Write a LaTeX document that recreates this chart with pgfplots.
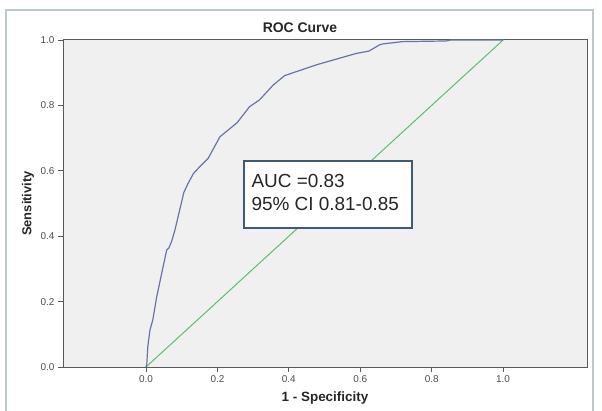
\documentclass[border=0pt]{standalone}
\usepackage{fontspec}
\setmainfont{Liberation Sans}
\usepackage{pgfplots}
\pgfplotsset{compat=1.18}
\definecolor{roc}{HTML}{6874A8}
\definecolor{refl}{HTML}{5DC068}
\definecolor{framec}{HTML}{B8C8CC}
\definecolor{boxc}{HTML}{3E5A78}
\begin{document}
\begin{tikzpicture}
\path[use as bounding box] (0bp,0bp) rectangle (602bp,411bp);
\draw[framec, line width=1.6bp] (6bp,-5bp) rectangle (593bp,401bp);
\node[font=\fontsize{14}{16}\selectfont\bfseries, text=black!85] at (300bp,383bp) {ROC Curve};
\begin{axis}[
  at={(63bp,44bp)}, anchor=south west,
  scale only axis, width=524bp, height=327bp,
  xmin=-0.2325, xmax=1.235, ymin=0, ymax=1,
  axis background/.style={fill=black!6},
  axis line style={draw=black!65, line width=1bp},
  xtick={0,0.2,0.4,0.6,0.8,1.0}, ytick={0,0.2,0.4,0.6,0.8,1.0},
  tick align=outside, xtick pos=bottom, ytick pos=left,
  major tick length=5bp,
  tick style={draw=black!65, line width=0.8bp},
  tick label style={font=\fontsize{10}{12}\selectfont, text=black!70},
  /pgf/number format/.cd, fixed, fixed zerofill, precision=1, assume math mode=true,
  /pgfplots/.cd,
  xlabel={1 - Specificity},
  ylabel={Sensitivity},
  xlabel style={font=\fontsize{13.5}{15}\selectfont\bfseries, text=black!85, at={(axis description cs:0.5,-0.095)}, anchor=center},
  ylabel style={font=\fontsize{13}{15}\selectfont\bfseries, text=black!85, at={(axis description cs:-0.0668,0.5)}, anchor=center},
]
\addplot[refl, line width=1bp] coordinates {(0,0) (1,1)};
\addplot[roc, line width=1.2bp] coordinates {
(0,0) (0.002,0.006) (0.005,0.062) (0.011,0.113) (0.019,0.144) (0.030,0.215)
(0.044,0.287) (0.058,0.358) (0.064,0.364) (0.072,0.385) (0.081,0.419)
(0.106,0.534) (0.118,0.562) (0.133,0.592) (0.151,0.613) (0.174,0.638)
(0.207,0.704) (0.255,0.747) (0.290,0.796) (0.318,0.817) (0.356,0.862)
(0.388,0.891) (0.477,0.924) (0.589,0.959) (0.624,0.966) (0.654,0.985)
(0.663,0.988) (0.718,0.995) (0.84,0.997) (0.854,1) (1,1)};
\draw[boxc, line width=1.8bp, fill=white] (axis cs:0.2745,0.630) rectangle (axis cs:0.745,0.425);
\node[anchor=base west, font=\fontsize{19}{22}\selectfont, text=black!85, inner sep=0pt] at (axis cs:0.295,0.550) {AUC =0.83};
\node[anchor=base west, font=\fontsize{19}{22}\selectfont, text=black!85, inner sep=0pt] at (axis cs:0.295,0.478) {95\% CI 0.81-0.85};
\end{axis}
\end{tikzpicture}
\end{document}
